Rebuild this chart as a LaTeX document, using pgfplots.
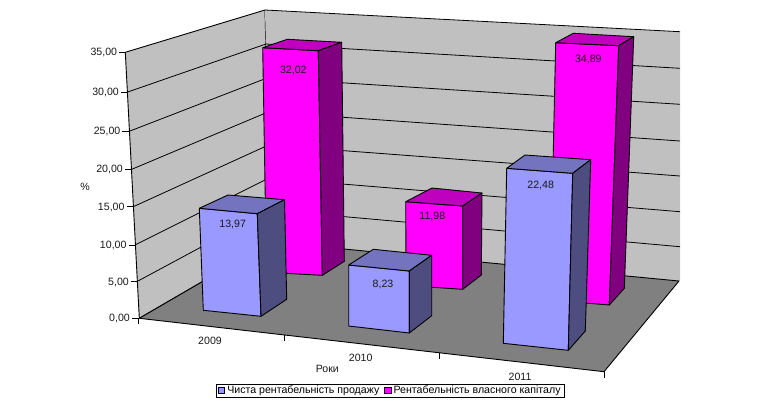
\documentclass[border=0pt]{standalone}
\usepackage{pgfplots}
\pgfplotsset{compat=1.18}
\usepackage{fontspec}
\setmainfont{Liberation Sans}
\definecolor{wall}{HTML}{C0C0C0}
\definecolor{floorc}{HTML}{808080}
\definecolor{bfront}{HTML}{9999FF}
\definecolor{btop}{HTML}{7373BF}
\definecolor{bside}{HTML}{4D4D80}
\definecolor{pfront}{HTML}{FF00FF}
\definecolor{ptop}{HTML}{BF00BF}
\definecolor{pside}{HTML}{800080}
\pgfplotsset{
  face/.style={forget plot,fill=#1,draw=black,line width=0.9pt,line join=round,mark=none},
  gl/.style={forget plot,draw=black,line width=0.8pt,mark=none},
}
\tikzset{txt/.style={font=\fontsize{10.6}{12}\selectfont,inner sep=0pt,text=black!90}}
\begin{document}
\begin{tikzpicture}
\useasboundingbox (0,0) rectangle (768pt,405pt);
\begin{axis}[
  scale only axis,width=768pt,height=405pt,
  xmin=0,xmax=768,ymin=0,ymax=405,y dir=reverse,
  hide axis,clip=false,
  legend columns=2,
  legend style={at={(axis cs:215.5,383.5)},anchor=north west,draw=black,line width=0.9pt,
    inner xsep=2pt,inner ysep=0pt,font=\fontsize{10.6}{12}\selectfont,
    /tikz/every even column/.append style={column sep=3pt}},
  legend cell align=left,
  legend image code/.code={\draw[#1,line width=0.8pt] (0pt,-3pt) rectangle (6.5pt,3pt);},
]
% walls
\addplot[face=wall] coordinates {(125.3,52.3)(265,10)(270.5,242)(139.3,318.3)(125.3,52.3)};
\addplot[forget plot,fill=wall,draw=none,mark=none] coordinates {(265,10)(680,31.7)(680,281)(270.5,242)(265,10)};
\addplot[gl] coordinates {(265,10)(680,31.7)};
% left wall grid
\addplot[gl] coordinates {(127.7,92)(266,44)};
\addplot[gl] coordinates {(130,131)(267,78)};
\addplot[gl] coordinates {(131.7,169.3)(268,112)};
\addplot[gl] coordinates {(133.3,206.7)(268.5,145)};
\addplot[gl] coordinates {(135,245)(269,178)};
\addplot[gl] coordinates {(136.7,281.7)(270,210)};
% back wall grid
\addplot[gl] coordinates {(266,44)(680,68.3)};
\addplot[gl] coordinates {(267,78)(680,104.3)};
\addplot[gl] coordinates {(268,112)(680,141)};
\addplot[gl] coordinates {(268.5,145)(680,176)};
\addplot[gl] coordinates {(269,178)(680,211.7)};
\addplot[gl] coordinates {(270,210)(680,246.7)};
% floor
\addplot[face=floorc] coordinates {(139.3,318.3)(270.5,242)(679,281)(604,371.7)(139.3,318.3)};
% axis ticks
\addplot[gl] coordinates {(119.3,52.3)(125.3,52.3)};
\addplot[gl] coordinates {(121,92)(127.7,92)};
\addplot[gl] coordinates {(122.3,131)(130,131)};
\addplot[gl] coordinates {(125,169.3)(131.7,169.3)};
\addplot[gl] coordinates {(126.5,206.7)(133.3,206.7)};
\addplot[gl] coordinates {(128.5,245)(135,245)};
\addplot[gl] coordinates {(130.5,281.7)(136.7,281.7)};
\addplot[gl] coordinates {(132,318.3)(139.3,318.3)};
\addplot[gl] coordinates {(138.8,318.3)(138.8,324)};
\addplot[gl] coordinates {(284,335)(284,341)};
\addplot[gl] coordinates {(439,353)(439,358.5)};
\addplot[gl] coordinates {(604,371.7)(604,377.5)};
% pink 2009 (32,02)
\addplot[face=pfront] coordinates {(262.7,47.7)(318.3,50.7)(322.3,275.3)(266.5,272.3)(262.7,47.7)};
\addplot[face=ptop] coordinates {(262.7,47.7)(287.3,39.3)(341.7,42.3)(318.3,50.7)(262.7,47.7)};
\addplot[face=pside] coordinates {(318.3,50.7)(341.7,42.3)(344.3,261.3)(322.3,275.3)(318.3,50.7)};
% blue 2009 (13,97)
\addplot[face=bfront] coordinates {(199.3,208.3)(257.3,213.7)(261,316.3)(203.3,310.3)(199.3,208.3)};
\addplot[face=btop] coordinates {(199.3,208.3)(228,195)(284.5,199.7)(257.3,213.7)(199.3,208.3)};
\addplot[face=bside] coordinates {(257.3,213.7)(284.5,199.7)(286.7,299.3)(261,316.3)(257.3,213.7)};
% pink 2010 (11,98)
\addplot[face=pfront] coordinates {(405.7,201.7)(462.7,206)(462.7,289.3)(406,285.5)(405.7,201.7)};
\addplot[face=ptop] coordinates {(405.7,201.7)(432,188)(482,193)(462.7,206)(405.7,201.7)};
\addplot[face=pside] coordinates {(462.7,206)(482,193)(481.3,275)(462.7,289.3)(462.7,206)};
% blue 2010 (8,23)
\addplot[face=bfront] coordinates {(348.7,265)(409.3,271)(409.3,333)(348.7,326)(348.7,265)};
\addplot[face=btop] coordinates {(348.7,265)(373.3,249.3)(431.7,255.3)(409.3,271)(348.7,265)};
\addplot[face=bside] coordinates {(409.3,271)(431.7,255.3)(431.7,315.7)(409.3,333)(409.3,271)};
% pink 2011 (34,89)
\addplot[face=pfront] coordinates {(555.7,42.7)(618.7,45.7)(609.3,305)(550,300)(555.7,42.7)};
\addplot[face=ptop] coordinates {(555.7,42.7)(573.3,33.3)(633.7,36.7)(618.7,45.7)(555.7,42.7)};
\addplot[face=pside] coordinates {(618.7,45.7)(633.7,36.7)(624.3,288.3)(609.3,305)(618.7,45.7)};
% blue 2011 (22,48)
\addplot[face=bfront] coordinates {(506.7,168.3)(572.7,173.3)(568.3,350.3)(503.3,343.3)(506.7,168.3)};
\addplot[face=btop] coordinates {(506.7,168.3)(525,155)(590.7,159.7)(572.7,173.3)(506.7,168.3)};
\addplot[face=bside] coordinates {(572.7,173.3)(590.7,159.7)(585.3,331)(568.3,350.3)(572.7,173.3)};
% tick labels
\node[txt,anchor=east] at (axis cs:117.3,52.5) {35,00};
\node[txt,anchor=east] at (axis cs:119,92) {30,00};
\node[txt,anchor=east] at (axis cs:120.5,131) {25,00};
\node[txt,anchor=east] at (axis cs:123,169.7) {20,00};
\node[txt,anchor=east] at (axis cs:124.7,207) {15,00};
\node[txt,anchor=east] at (axis cs:126.7,245) {10,00};
\node[txt,anchor=east] at (axis cs:129,282) {5,00};
\node[txt,anchor=east] at (axis cs:130,318.7) {0,00};
\node[txt] at (axis cs:210,341.3) {2009};
\node[txt] at (axis cs:360.7,358.3) {2010};
\node[txt] at (axis cs:520,376.7) {2011};
\node[txt] at (axis cs:85,186.7) {\%};
\node[txt] at (axis cs:327.3,369.3) {Роки};
% data labels
\node[txt] at (axis cs:293.3,70.3) {32,02};
\node[txt] at (axis cs:232.7,224.3) {13,97};
\node[txt] at (axis cs:383,284.5) {8,23};
\node[txt] at (axis cs:432.3,216.7) {11,98};
\node[txt] at (axis cs:540.7,185.7) {22,48};
\node[txt] at (axis cs:588.3,59.3) {34,89};
\addlegendimage{fill=bfront,draw=black}
\addlegendentry{Чиста рентабельність продажу}
\addlegendimage{fill=pfront,draw=black}
\addlegendentry{Рентабельність власного капіталу}
\end{axis}
\end{tikzpicture}
\end{document}
